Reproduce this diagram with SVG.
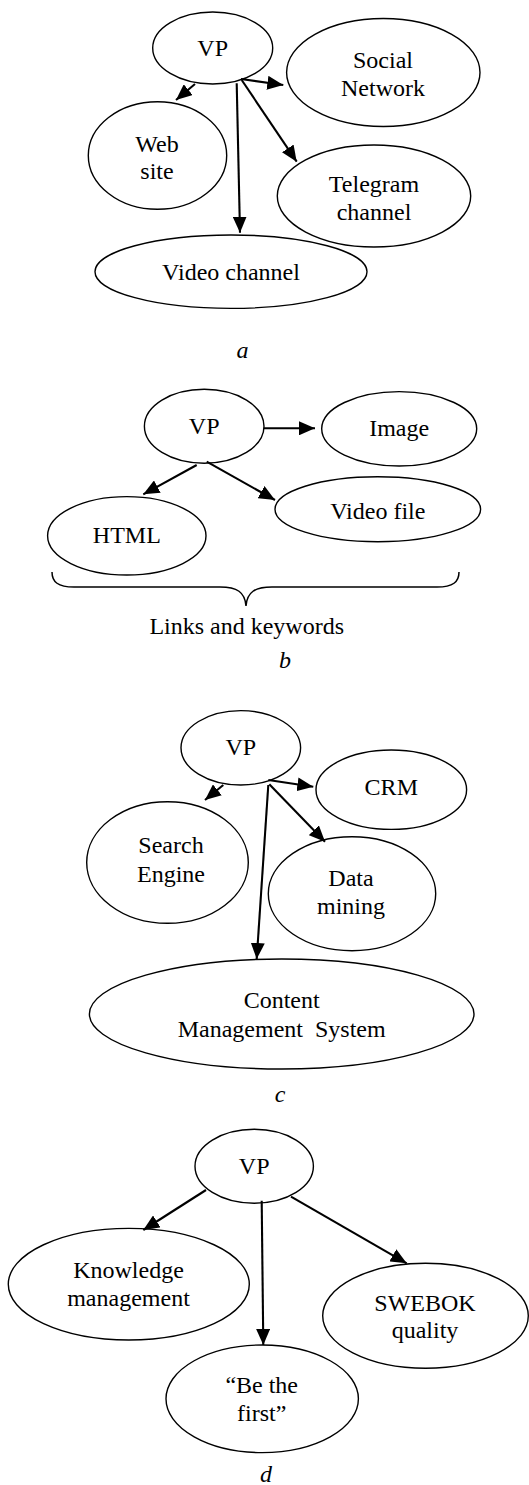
<svg xmlns="http://www.w3.org/2000/svg" width="529" height="1485" viewBox="0 0 529 1485">
<style>
.n{fill:#fff;stroke:#000;stroke-width:1.4}
.t{font-family:"Liberation Serif","Times New Roman",serif;font-size:24px;fill:#000;text-anchor:middle}
.l{font-family:"Liberation Serif","Times New Roman",serif;font-size:24px;font-style:italic;fill:#000;text-anchor:middle}
.c{stroke:#000;stroke-width:2.1;fill:none;marker-end:url(#ah)}
</style>
<defs>
<marker id="ah" markerUnits="userSpaceOnUse" markerWidth="16" markerHeight="14" refX="16" refY="7" orient="auto">
<path d="M0,0 L16,7 L0,14 z" fill="#000"/>
</marker>
</defs>
<rect width="529" height="1485" fill="#fff"/>

<!-- a -->
<g id="a-vp"><ellipse class="n" cx="212.7" cy="48" rx="60" ry="36"/><text class="t" x="212.7" y="56">VP</text></g>
<g id="a-social"><ellipse class="n" cx="383.3" cy="72.5" rx="96.7" ry="54"/><text class="t" x="383" y="68">Social</text><text class="t" x="383" y="95.5">Network</text></g>
<g id="a-web"><ellipse class="n" cx="157.5" cy="155.5" rx="69.2" ry="53.8"/><text class="t" x="157" y="151.5">Web</text><text class="t" x="157" y="178.5">site</text></g>
<g id="a-telegram"><ellipse class="n" cx="374" cy="196" rx="96.7" ry="51"/><text class="t" x="374" y="191.7">Telegram</text><text class="t" x="374" y="219.5">channel</text></g>
<g id="a-video"><ellipse class="n" cx="231" cy="271.7" rx="136" ry="36.7"/><text class="t" x="231" y="279.5">Video channel</text></g>
<text class="l" x="242.5" y="358">a</text>

<!-- b -->
<g id="b-vp"><ellipse class="n" cx="204.2" cy="426.3" rx="59.8" ry="37"/><text class="t" x="204.2" y="434.3">VP</text></g>
<g id="b-image"><ellipse class="n" cx="399.2" cy="428.8" rx="77.5" ry="37.2"/><text class="t" x="399.2" y="436">Image</text></g>
<g id="b-videofile"><ellipse class="n" cx="377.8" cy="509.2" rx="102.8" ry="32.5"/><text class="t" x="377.8" y="519">Video file</text></g>
<g id="b-html"><ellipse class="n" cx="126.8" cy="535.8" rx="79.2" ry="39.2"/><text class="t" x="126.8" y="542.7">HTML</text></g>
<g id="b-brace"><path d="M52,572 C52,582 58,587 74,587 L220,587 C237,587 245,592 246,606 C247,592 255,587 272,587 L437,587 C453,587 459,582 459,572" fill="none" stroke="#000" stroke-width="1.5"/><text class="t" x="246.7" y="634.3">Links and keywords</text></g>
<text class="l" x="285" y="667.5">b</text>

<!-- c -->
<g id="c-vp"><ellipse class="n" cx="240.8" cy="747.8" rx="59.8" ry="37.2"/><text class="t" x="240.8" y="755">VP</text></g>
<g id="c-crm"><ellipse class="n" cx="391.3" cy="789.7" rx="75.3" ry="39.7"/><text class="t" x="391.3" y="795">CRM</text></g>
<g id="c-search"><ellipse class="n" cx="167.5" cy="862.5" rx="80.8" ry="60.8"/><text class="t" x="171" y="852.7">Search</text><text class="t" x="171" y="881.5">Engine</text></g>
<g id="c-data"><ellipse class="n" cx="352" cy="893.7" rx="83.7" ry="57"/><text class="t" x="351" y="886">Data</text><text class="t" x="351" y="913.5">mining</text></g>
<g id="c-cms"><ellipse class="n" cx="281.7" cy="1014" rx="192.3" ry="55"/><text class="t" x="281.7" y="1008.3">Content</text><text class="t" x="281.7" y="1036.7" xml:space="preserve">Management  System</text></g>
<text class="l" x="280" y="1101.7">c</text>

<!-- d -->
<g id="d-vp"><ellipse class="n" cx="254.2" cy="1166.3" rx="59.2" ry="37"/><text class="t" x="254.2" y="1174">VP</text></g>
<g id="d-knowledge"><ellipse class="n" cx="128.8" cy="1284.2" rx="120.5" ry="55.8"/><text class="t" x="128.5" y="1278.3">Knowledge</text><text class="t" x="128.5" y="1306">management</text></g>
<g id="d-swebok"><ellipse class="n" cx="425.5" cy="1315.8" rx="102.8" ry="52.5"/><text class="t" x="425" y="1311">SWEBOK</text><text class="t" x="425" y="1338.3">quality</text></g>
<g id="d-first"><ellipse class="n" cx="262.2" cy="1398.8" rx="96.2" ry="53.8"/><text class="t" x="261.7" y="1393.3">“Be the</text><text class="t" x="261.7" y="1421">first”</text></g>
<text class="l" x="266" y="1482">d</text>

<g id="connectors">
<line class="c" x1="241" y1="79" x2="283.3" y2="85"/>
<line class="c" x1="195" y1="84" x2="176" y2="100"/>
<line class="c" x1="241.7" y1="80" x2="296.7" y2="161.7"/>
<line class="c" x1="236.7" y1="83.3" x2="240" y2="232.7"/>

<line class="c" x1="264" y1="428.3" x2="315" y2="428.3"/>
<line class="c" x1="196.7" y1="465" x2="143.3" y2="494.3"/>
<line class="c" x1="206.7" y1="461.7" x2="275" y2="500"/>

<line class="c" x1="268.3" y1="780" x2="313.3" y2="786.7"/>
<line class="c" x1="223.3" y1="785" x2="205" y2="800"/>
<line class="c" x1="269.3" y1="784.3" x2="325" y2="841.7"/>
<line class="c" x1="268.3" y1="785" x2="256.7" y2="959"/>

<line class="c" x1="206" y1="1190" x2="143.3" y2="1230"/>
<line class="c" x1="261.7" y1="1200.7" x2="263.3" y2="1345"/>
<line class="c" x1="291" y1="1196.7" x2="406.7" y2="1263.3"/>
</g>
</svg>
